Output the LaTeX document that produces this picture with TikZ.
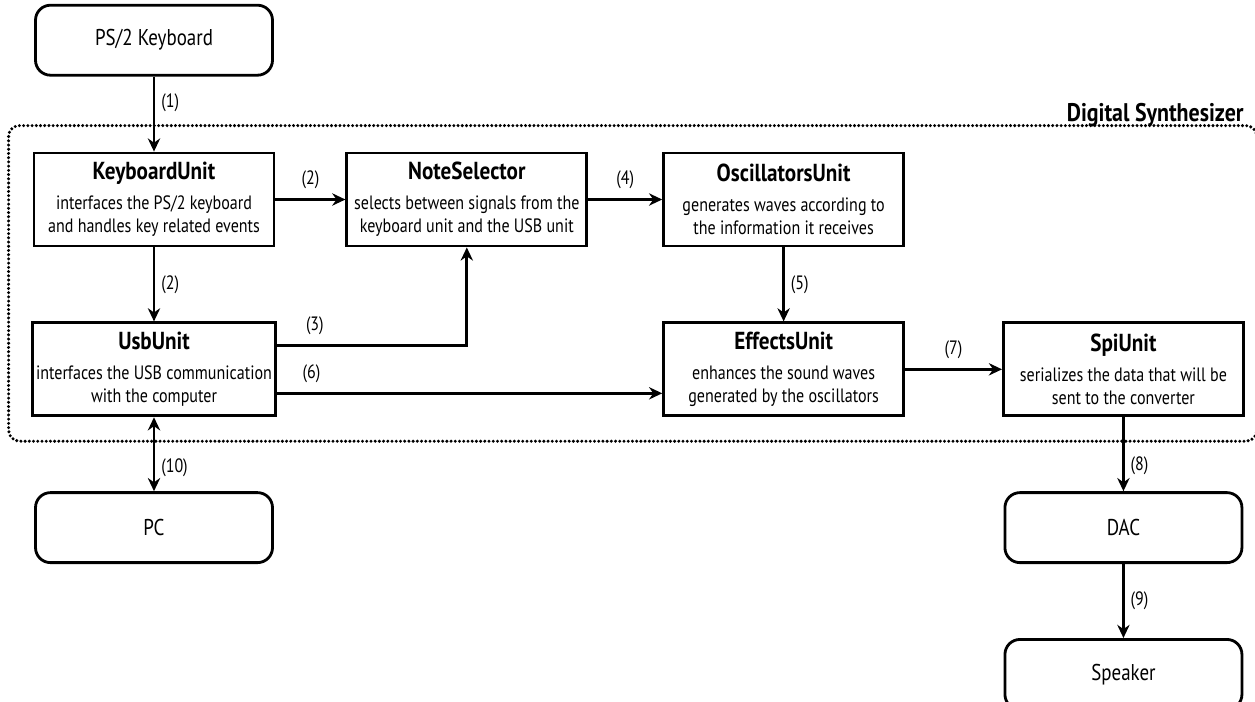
\documentclass[tikz,border=0pt]{standalone}
\usepackage{fontspec}
\setmainfont{PT Sans}[FakeStretch=0.83,BoldFeatures={FakeStretch=0.86}]
\usetikzlibrary{arrows.meta,positioning,calc}
\newcommand{\unitname}[1]{{\fontsize{14}{16}\selectfont\bfseries #1}}

\begin{document}
\begin{tikzpicture}[
  unit/.style={draw,line width=1.6pt,align=center,minimum width=4.8cm,minimum height=1.86cm,inner sep=2pt,font=\fontsize{11}{13}\selectfont},
  ext/.style={draw,line width=1.6pt,rounded corners=0.3cm,minimum width=4.74cm,minimum height=1.4cm,font=\fontsize{13}{15}\selectfont},
  arr/.style={-{Stealth[length=7.5pt,width=7pt]},line width=1.6pt},
  lbl/.style={font=\fontsize{11}{13}\selectfont},
  node distance=1.48cm
]
  \useasboundingbox (0,0) rectangle (25.1,-14.02);

  % synthesizer units
  \node[unit] (ku) at (3.08,-3.99) {\unitname{KeyboardUnit}\\[4pt]interfaces the PS/2 keyboard\\and handles key related events};
  \node[unit,right=1.4cm of ku] (ns) {\unitname{NoteSelector}\\[4pt]selects between signals from the\\keyboard unit and the USB unit};
  \node[unit,right=1.48cm of ns] (osc) {\unitname{OscillatorsUnit}\\[4pt]generates waves according to\\the information it receives};
  \node[unit,below=of ku] (usb) {\unitname{UsbUnit}\\[4pt]interfaces the USB communication\\with the computer};
  \node[unit,below=of osc] (eff) {\unitname{EffectsUnit}\\[4pt]enhances the sound waves\\generated by the oscillators};
  \node[unit,right=1.94cm of eff] (spi) {\unitname{SpiUnit}\\[4pt]serializes the data that will be\\sent to the converter};

  % outside parts
  \node[ext,above=1.5cm of ku] (kbd) {PS/2 Keyboard};
  \node[ext,below=of usb] (pc) {PC};
  \node[ext,below=of spi] (dac) {DAC};
  \node[ext,below=of dac] (spk) {Speaker};

  % frame
  \draw[line width=1.9pt,dash pattern=on 0pt off 2.4pt,line cap=round,rounded corners=0.22cm]
    ($(ku.north west)+(-0.48,0.52)$) rectangle ($(spi.south east)+(0.24,-0.48)$);
  \node[anchor=base east,font=\fontsize{14.5}{16}\selectfont\bfseries] (synth) at ($(spi.east |- ku.north)+(0.1,0.6)$) {Digital Synthesizer};

  % signals
  \draw[arr] (kbd) -- node[lbl,right,pos=0.35] {(1)} (ku);
  \draw[arr] (ku) -- node[lbl,above=2pt] {(2)} (ns);
  \draw[arr] (ku) -- node[lbl,right] {(2)} (usb);
  \draw[arr] ([yshift=0.48cm]usb.east) -| node[lbl,above=2pt,pos=0.1] {(3)} (ns);
  \draw[arr] ([yshift=-0.48cm]usb.east) -- node[lbl,above=2pt,pos=0.09] {(6)} ([yshift=-0.48cm]eff.west);
  \draw[arr] (ns) -- node[lbl,above=2pt] {(4)} (osc);
  \draw[arr] (osc) -- node[lbl,right] {(5)} (eff);
  \draw[arr] (eff) -- node[lbl,above=2pt] {(7)} (spi);
  \draw[arr] (spi) -- node[lbl,right,pos=0.65] {(8)} (dac);
  \draw[arr] (dac) -- node[lbl,right] {(9)} (spk);
  \draw[arr,{Stealth[length=7.5pt,width=7pt]}-{Stealth[length=7.5pt,width=7pt]}] (usb) -- node[lbl,right,pos=0.68] {(10)} (pc);
\end{tikzpicture}
\end{document}
